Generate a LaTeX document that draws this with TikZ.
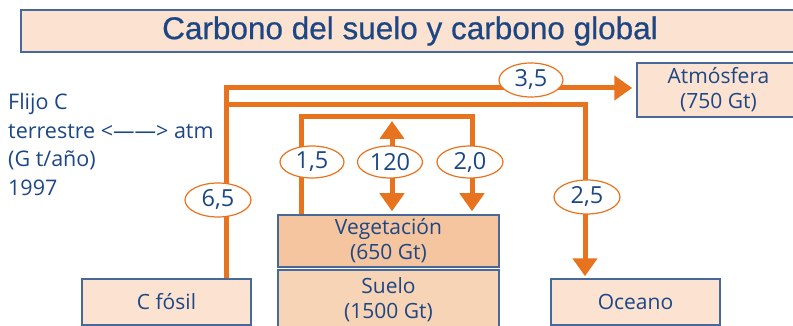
\documentclass[tikz,border=0pt]{standalone}
\usepackage{fontspec}
\setmainfont{Open Sans}
\newfontfamily\titlefont[FakeBold=0.6]{Liberation Sans}
\usepackage{xcolor}
\usetikzlibrary{arrows.meta,shapes.geometric}
\definecolor{flujo}{HTML}{E8731F}
\definecolor{texto}{HTML}{1C4784}
\definecolor{borde}{HTML}{46699A}
\definecolor{claro}{HTML}{FBE2D1}
\definecolor{veget}{HTML}{F5C5A0}
\definecolor{suelo}{HTML}{F8D4B6}

\begin{document}
\begin{tikzpicture}[x=1pt,y=-1pt,
  caja/.style={draw=borde,line width=1.5pt,fill=claro,text=texto,align=center,
    inner sep=0pt,font=\fontsize{21}{25}\selectfont},
  flujoline/.style={draw=flujo,line width=5pt},
  punta/.style={-{Triangle[width=24pt,length=18pt]}},
  tasa/.style={ellipse,draw=flujo,line width=1.2pt,fill=white,text=texto,inner sep=0pt,
    minimum height=32pt,font=\fontsize{23.5}{26}\selectfont}]
\useasboundingbox (0,0) rectangle (793,326);
\node[caja,minimum width=778pt,minimum height=42pt,font=\titlefont\fontsize{31.5}{34}\selectfont]
  (titulo) at (410,31) {Carbono del suelo y carbono global};
\node[caja,minimum width=163pt,minimum height=54pt] (atm) at (718.5,90) {Atmósfera\\(750 Gt)};
\node[caja,minimum width=169pt,minimum height=46pt] (cfosil) at (166.5,302) {C fósil};
\node[caja,minimum width=221pt,minimum height=52pt,fill=veget] (veg) at (388.5,241) {Vegetación\\(650 Gt)};
\node[caja,minimum width=221pt,minimum height=60pt,fill=suelo] (suelo) at (388.5,300) {Suelo\\(1500 Gt)};
\node[anchor=north west,align=left,text=texto,inner sep=0pt,font=\fontsize{21.5}{28.5}\selectfont]
  (flujoc) at (8,93) {Flijo C\\terrestre <——> atm\\(G t/año)\\1997};
\node[caja,minimum width=169pt,minimum height=46pt] (oceano) at (635.5,302) {Oceano};
\coordinate (ramal) at (226,105);
\coordinate (cima) at (392,121);
\draw[flujoline,punta,shorten >=4pt] ([xshift=59.5pt]cfosil.north) |- ([yshift=2pt]atm.west);
\draw[flujoline,punta] (ramal) -| ([xshift=-50.5pt,yshift=2pt]oceano.north);
\draw[flujoline,punta,shorten >=3pt] ([xshift=-87.5pt]veg.north) -- ++(0,-98) -| ([xshift=83.5pt]veg.north);
\draw[flujoline,{Triangle[width=24pt,length=18pt]}-{Triangle[width=24pt,length=18pt]},shorten >=3pt]
  (cima) -- ([xshift=3.5pt]veg.north);
\node[tasa,minimum width=64pt,minimum height=34pt] (t35) at (531,80) {3,5};
\node[tasa,minimum width=66pt,minimum height=34pt] (t65) at (218,200) {6,5};
\node[tasa,minimum width=64pt] (t15) at (312,162) {1,5};
\node[tasa,minimum width=65pt] (t120) at (390,162) {120};
\node[tasa,minimum width=66pt] (t20) at (470,162) {2,0};
\node[tasa,minimum width=66pt,minimum height=34pt] (t25) at (587,197) {2,5};
\end{tikzpicture}
\end{document}
